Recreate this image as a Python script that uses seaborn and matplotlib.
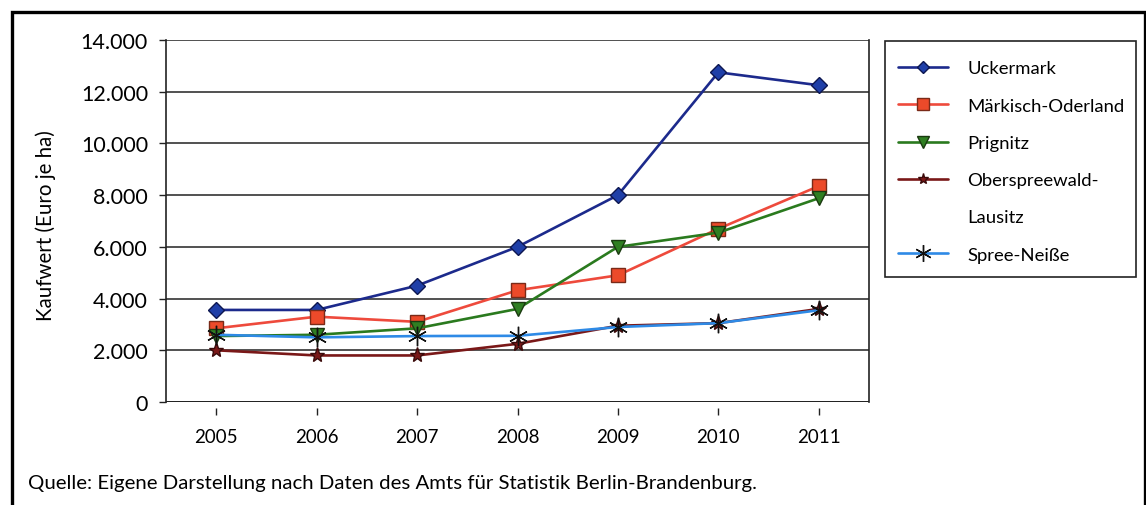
import matplotlib
matplotlib.use("Agg")
import matplotlib.pyplot as plt
import seaborn as sns
import pandas as pd
from matplotlib.lines import Line2D
from matplotlib.patches import Rectangle
from matplotlib.ticker import FuncFormatter, FixedLocator

# Kaufwerte für landwirtschaftliche Flächen (Euro je ha)
years = ["2005", "2006", "2007", "2008", "2009", "2010", "2011"]
uckermark = [3560, 3560, 4500, 6000, 8000, 12750, 12250]
maerkisch_oderland = [2850, 3300, 3100, 4320, 4900, 6700, 8350]
prignitz = [2550, 2600, 2850, 3600, 6000, 6550, 7880]
oberspreewald_lausitz = [2000, 1800, 1800, 2250, 2950, 3050, 3600]
spree_neisse = [2600, 2500, 2550, 2560, 2900, 3050, 3550]

series_names = ["Uckermark", "Märkisch-Oderland", "Prignitz",
                "Oberspreewald-Lausitz", "Spree-Neiße"]
series_values = [uckermark, maerkisch_oderland, prignitz,
                 oberspreewald_lausitz, spree_neisse]

styles = [
    dict(color="#1c2a8c", marker="D", markersize=8, markerfacecolor="#1f3fa8", markeredgecolor="#0d1650"),
    dict(color="#ee4a3c", marker="s", markersize=10, markerfacecolor="#ec4a2a", markeredgecolor="#7a2a18"),
    dict(color="#2a7a1e", marker="v", markersize=10, markerfacecolor="#2f7f22", markeredgecolor="#1a3a10"),
    dict(color="#7a1818", marker="*", markersize=11, markerfacecolor="#7a1818", markeredgecolor="#3a0a0a"),
    dict(color="#2e8ae6", marker=(6, 2, 0), markersize=14, markerfacecolor="#111111", markeredgecolor="#111111"),
]
legend_marker_sizes = [6, 9, 8, 8, 12]

sns.set_theme(style="white")
plt.rcParams["font.family"] = ["Lato", "DejaVu Sans"]

W, H = 1146, 506
fig = plt.figure(figsize=(W / 100, H / 100), dpi=100)
ax = fig.add_axes([166 / W, 1 - 403 / H, (869 - 166) / W, (403 - 41) / H])

positions = list(range(len(years)))
frames = []
for name, vals in zip(series_names, series_values):
    frames.append(pd.DataFrame({"pos": positions, "wert": vals, "region": name}))
df = pd.concat(frames, ignore_index=True)

for name, st in zip(series_names, styles):
    sub = df[df["region"] == name]
    sns.lineplot(data=sub, x="pos", y="wert", ax=ax, label=name,
                 linewidth=1.9, markeredgewidth=1.0, zorder=3, **st)

ax.set_xlim(-0.5, 6.5)
ax.set_ylim(0, 14000)
ax.xaxis.set_major_locator(FixedLocator(positions))
ax.set_xticklabels(years)
ax.set_yticks(range(0, 14001, 2000))
ax.yaxis.set_major_formatter(FuncFormatter(lambda v, p: f"{int(v):,}".replace(",", ".")))

ax.grid(axis="y", color="#333333", linewidth=1.2)
ax.grid(axis="x", visible=False)
ax.set_axisbelow(True)

for s in ["left", "right"]:
    ax.spines[s].set_visible(True)
    ax.spines[s].set_color("#222222")
    ax.spines[s].set_linewidth(1.2)
ax.spines["top"].set_visible(False)
ax.spines["bottom"].set_position(("outward", 4))
ax.spines["bottom"].set_visible(False)
ax.axhline(0, color="#222222", linewidth=1.4, zorder=2)

ax.tick_params(axis="y", which="major", left=True, length=5, width=1.0,
               color="#222222", pad=8, labelsize=15.5, labelcolor="#000000")
ax.tick_params(axis="x", which="major", bottom=True, length=5, width=1.0,
               color="#222222", pad=10, labelsize=13.5, labelcolor="#000000")

ax.set_xlabel("")
ax.set_ylabel("Kaufwert (Euro je ha)", fontsize=14.8, color="#000000")
ax.yaxis.set_label_coords((56 - 166) / (869 - 166), (403 - 226) / (403 - 41))

# Legend: the long district name is split over two rows, the handle sits on the first
handles, labels = ax.get_legend_handles_labels()
idx = labels.index("Oberspreewald-Lausitz")
labels[idx] = "Oberspreewald-"
handles.insert(idx + 1, Line2D([], [], linestyle="none", marker=None))
labels.insert(idx + 1, "Lausitz")

leg = ax.legend(handles, labels, loc="upper left",
                bbox_to_anchor=(898 / W, 1 - 61.5 / H),
                bbox_transform=fig.transFigure, frameon=False,
                fontsize=13.3, handlelength=2.7, handletextpad=1.05,
                labelspacing=1.15, borderpad=0, borderaxespad=0)
for t in leg.get_texts():
    t.set_color("#000000")
series_handles = [h for h, lab in zip(leg.legend_handles, labels) if lab != "Lausitz"]
for h, ms in zip(series_handles, legend_marker_sizes):
    h.set_markersize(ms)

# legend frame
fig.patches.append(Rectangle((885 / W, 1 - 278 / H), (1136 - 885) / W, (278 - 42) / H,
                             transform=fig.transFigure, fill=False,
                             edgecolor="#222222", linewidth=1.2))

fig.text(28 / W, 1 - 484 / H,
         "Quelle: Eigene Darstellung nach Daten des Amts für Statistik Berlin-Brandenburg.",
         fontsize=14.7, color="#000000", va="center", ha="left")

fig.patches.append(Rectangle((11.5 / W, -0.05), (1144.5 - 11.5) / W, 1.05 - 12.5 / H,
                             transform=fig.transFigure, fill=False,
                             edgecolor="black", linewidth=2.4))

fig.savefig("out.png", dpi=100)
